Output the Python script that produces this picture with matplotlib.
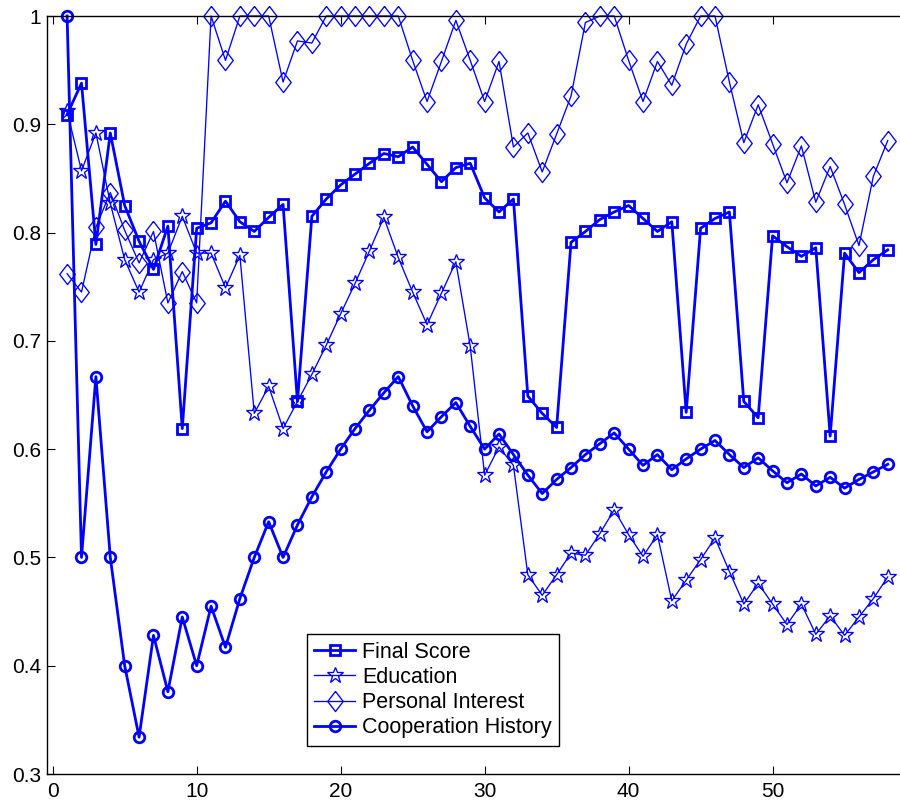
import numpy as np
import matplotlib
matplotlib.use('Agg')
import matplotlib.pyplot as plt

plt.rcParams['font.family'] = ['Liberation Sans', 'DejaVu Sans']

# rounds 1..58
rounds = np.arange(1, 59)

final_score = [0.909, 0.938, 0.789, 0.892, 0.825, 0.792, 0.766, 0.806, 0.619, 0.804,
               0.809, 0.829, 0.810, 0.801, 0.814, 0.826, 0.644, 0.815, 0.831, 0.844,
               0.854, 0.864, 0.873, 0.870, 0.879, 0.863, 0.847, 0.860, 0.864, 0.832,
               0.819, 0.831, 0.649, 0.633, 0.620, 0.791, 0.801, 0.812, 0.819, 0.825,
               0.813, 0.801, 0.810, 0.634, 0.804, 0.813, 0.819, 0.644, 0.629, 0.797,
               0.787, 0.778, 0.786, 0.612, 0.781, 0.763, 0.775, 0.784]

education = [0.912, 0.857, 0.892, 0.827, 0.775, 0.745, 0.775, 0.781, 0.815, 0.781,
             0.781, 0.749, 0.779, 0.633, 0.658, 0.619, 0.644, 0.669, 0.696, 0.725,
             0.753, 0.783, 0.814, 0.777, 0.745, 0.715, 0.744, 0.773, 0.695, 0.576,
             0.602, 0.585, 0.484, 0.465, 0.484, 0.504, 0.502, 0.522, 0.544, 0.521,
             0.501, 0.521, 0.460, 0.479, 0.498, 0.518, 0.487, 0.457, 0.476, 0.457,
             0.438, 0.457, 0.429, 0.446, 0.428, 0.445, 0.462, 0.482]

personal_interest = [0.762, 0.745, 0.805, 0.837, 0.802, 0.772, 0.801, 0.735, 0.764, 0.735,
                     1.000, 0.959, 1.000, 1.000, 1.000, 0.939, 0.977, 0.975, 1.000, 1.000,
                     1.000, 1.000, 1.000, 1.000, 0.959, 0.921, 0.958, 0.996, 0.959, 0.921,
                     0.958, 0.879, 0.892, 0.856, 0.891, 0.926, 0.994, 1.000, 1.000, 0.959,
                     0.921, 0.958, 0.936, 0.974, 1.000, 1.000, 0.939, 0.883, 0.918, 0.882,
                     0.846, 0.880, 0.828, 0.861, 0.826, 0.788, 0.852, 0.885]

cooperation = [1.000, 0.500, 0.667, 0.500, 0.400, 0.334, 0.428, 0.376, 0.445, 0.400,
               0.455, 0.417, 0.462, 0.500, 0.533, 0.500, 0.530, 0.556, 0.579, 0.600,
               0.619, 0.636, 0.652, 0.667, 0.640, 0.616, 0.630, 0.643, 0.621, 0.600,
               0.614, 0.595, 0.576, 0.559, 0.572, 0.583, 0.595, 0.605, 0.615, 0.600,
               0.585, 0.595, 0.581, 0.591, 0.600, 0.608, 0.595, 0.583, 0.592, 0.580,
               0.569, 0.577, 0.566, 0.574, 0.564, 0.572, 0.579, 0.586]

# tall diamond marker
tall_diamond = [(0, 1.3), (1, 0), (0, -1.3), (-1, 0), (0, 1.3)]

fig = plt.figure(figsize=(9, 8.01), dpi=100)
ax = fig.add_axes([46.7/900, 27/801, 853.3/900, 758/801])

blue = (0, 0, 1)
ax.plot(rounds, final_score, color=blue, lw=2.0, marker='s', ms=7.0, mew=2.0,
        mfc='none', label='Final Score', clip_on=False)
ax.plot(rounds, education, color=blue, lw=0.95, marker='*', ms=12, mew=0.95,
        mfc='none', label='Education', clip_on=False)
ax.plot(rounds, personal_interest, color=blue, lw=0.95, marker=tall_diamond, ms=14.5,
        mew=0.95, mfc='none', label='Personal Interest', clip_on=False)
ax.plot(rounds, cooperation, color=blue, lw=2.0, marker='o', ms=7.6, mew=2.0,
        mfc='none', label='Cooperation History', clip_on=False)

ax.set_xlim(-0.417, 58.85)
ax.set_ylim(0.3, 1.0)
ax.set_xticks([0, 10, 20, 30, 40, 50])
ax.set_yticks([0.3, 0.4, 0.5, 0.6, 0.7, 0.8, 0.9, 1.0])
ax.set_yticklabels(['0.3', '0.4', '0.5', '0.6', '0.7', '0.8', '0.9', '1'])
ax.tick_params(direction='in', length=6, width=0.8, labelsize=15, top=True,
               right=False, pad=4)
ax.tick_params(axis='x', pad=6)
ax.spines['right'].set_visible(False)
for s in ['left', 'bottom', 'top']:
    ax.spines[s].set_linewidth(1.0)

leg = ax.legend(loc='lower left', bbox_to_anchor=(0.305, 0.037), borderaxespad=0,
                fontsize=15.5, numpoints=1, handlelength=1.9, handletextpad=0.3,
                labelspacing=0.2, borderpad=0.35, fancybox=False, framealpha=1,
                edgecolor='black')
leg.get_frame().set_linewidth(1.0)

fig.savefig('out.png', dpi=100)
